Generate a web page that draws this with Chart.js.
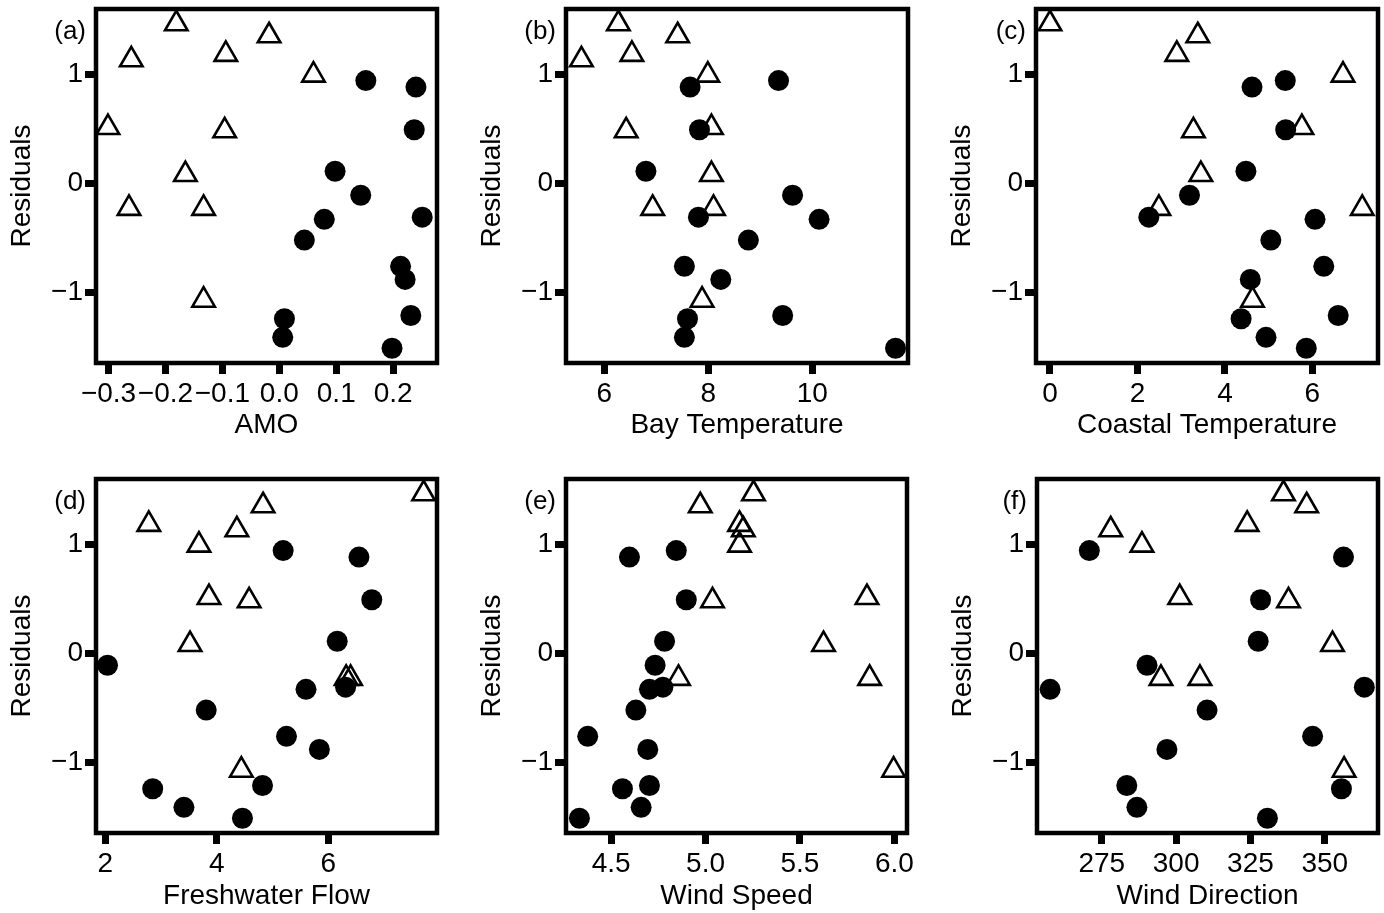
<!DOCTYPE html>
<html>
<head>
<meta charset="utf-8">
<title>Residuals vs covariates</title>
<script src="https://cdn.jsdelivr.net/npm/chart.js@4.4.1/dist/chart.umd.min.js"></script>
<style>
  body { margin: 0; background: #fff; }
  #wrap { position: relative; width: 1384px; height: 913px; background: #fff; }
  #wrap canvas { position: absolute; }
</style>
</head>
<body>
<div id="wrap">
  <canvas id="amo" width="460" height="456" style="left:0;top:0"></canvas>
  <canvas id="bay" width="450" height="456" style="left:470px;top:0"></canvas>
  <canvas id="coast" width="444" height="456" style="left:940px;top:0"></canvas>
  <canvas id="flow" width="460" height="457" style="left:0;top:456px"></canvas>
  <canvas id="speed" width="450" height="457" style="left:470px;top:456px"></canvas>
  <canvas id="dir" width="443" height="457" style="left:941px;top:456px"></canvas>
</div>
<script>
// residuals, same observations in every panel
const circleResiduals = [0.94, 0.88, 0.49, 0.11, -0.11, -0.31, -0.33, -0.52, -0.76, -0.88, -1.21, -1.24, -1.41, -1.51];
const triangleResiduals = [1.46, 1.35, 1.18, 1.13, 0.99, 0.51, 0.48, 0.08, -0.23, -0.23, -1.07];

// covariate values (same order as residuals above)
const amoCircle = [0.152, 0.240, 0.237, 0.098, 0.143, 0.251, 0.079, 0.044, 0.213, 0.221, 0.231, 0.009, 0.006, 0.198];
const amoTriangle = [-0.181, -0.018, -0.094, -0.260, 0.060, -0.301, -0.096, -0.165, -0.264, -0.133, -0.133];

const bayCircle = [9.35, 7.65, 7.83, 6.80, 9.62, 7.81, 10.13, 8.77, 7.54, 8.24, 9.43, 7.60, 7.54, 11.60];
const bayTriangle = [6.27, 7.41, 6.53, 5.56, 7.99, 8.06, 6.42, 8.06, 6.93, 8.10, 7.88];

const coastCircle = [5.38, 4.62, 5.39, 4.48, 3.19, 2.26, 6.06, 5.05, 6.26, 4.58, 6.59, 4.37, 4.94, 5.86];
const coastTriangle = [0.00, 3.38, 2.90, null, 6.70, 5.76, 3.28, 3.45, 2.49, 7.14, 4.63];

const flowCircle = [5.19, 6.55, 6.78, 6.16, 2.04, 6.31, 5.60, 3.81, 5.25, 5.84, 4.82, 2.85, 3.41, 4.46];
const flowTriangle = [7.71, 4.83, 2.78, 4.36, 3.68, 3.86, 4.58, 3.52, 6.32, 6.40, 4.44];

const speedCircle = [4.845, 4.597, 4.898, 4.783, 4.733, 4.774, 4.703, 4.631, 4.376, 4.694, 4.703, 4.560, 4.659, 4.332];
const speedTriangle = [5.254, 4.972, 5.18, 5.20, 5.18, 5.855, 5.037, 5.625, 4.857, 5.869, 5.996];

const dirCircle = [270.8, 356.3, 328.4, 327.6, 290.2, 363.3, 257.6, 310.4, 345.9, 296.9, 283.4, 355.6, 286.8, 330.7];
const dirTriangle = [336.1, 343.9, 323.9, 278.0, 288.5, 301.2, 337.8, 352.6, 294.9, 308.0, 356.5];

// tick values and labels
const residualTicks = [-1, 0, 1];
const residualTickLabels = ['\u22121', '0', '1'];
const amoTicks = [-0.3, -0.2, -0.1, 0, 0.1, 0.2];
const amoTickLabels = ['\u22120.3', '\u22120.2', '\u22120.1', '0.0', '0.1', '0.2'];
const bayTicks = [6, 8, 10];
const bayTickLabels = ['6', '8', '10'];
const coastTicks = [0, 2, 4, 6];
const coastTickLabels = ['0', '2', '4', '6'];
const flowTicks = [2, 4, 6];
const flowTickLabels = ['2', '4', '6'];
const speedTicks = [4.5, 5.0, 5.5, 6.0];
const speedTickLabels = ['4.5', '5.0', '5.5', '6.0'];
const dirTicks = [275, 300, 325, 350];
const dirTickLabels = ['275', '300', '325', '350'];

const FONT = '"Liberation Sans", Arial, Helvetica, sans-serif';
Chart.defaults.font.family = FONT;
Chart.defaults.font.size = 28;
Chart.defaults.color = '#000';

// box around the plot area
const framePlugin = {
  id: 'frame',
  beforeDatasetsDraw(chart) {
    const { ctx, chartArea: a } = chart;
    ctx.save();
    ctx.lineWidth = 4.5;
    ctx.strokeStyle = '#000';
    ctx.strokeRect(a.left, a.top, a.right - a.left, a.bottom - a.top);
    ctx.restore();
  }
};

// (a), (b) ... left of the box
const panelLabelPlugin = {
  id: 'panelLabel',
  afterDraw(chart, args, opts) {
    if (!opts.text) return;
    const { ctx, chartArea: a } = chart;
    ctx.save();
    ctx.font = '26px ' + FONT;
    ctx.fillStyle = '#000';
    ctx.textAlign = 'right';
    ctx.textBaseline = 'alphabetic';
    ctx.fillText(opts.text, a.left - 10, a.top + 30);
    ctx.restore();
  }
};

Chart.register(framePlugin, panelLabelPlugin);

function points(xs, ys) {
  return xs.map((x, i) => ({ x: x, y: ys[i] })).filter(p => p.x !== null);
}

function makePanel(id, label, title, circleX, triangleX, ticks, tickLabels, min, max, row, padRight) {
  const top = row === 0;
  const canvasH = top ? 456 : 457;
  const chartBottom = top ? 363 : 377;
  new Chart(document.getElementById(id), {
    type: 'scatter',
    data: {
      datasets: [
        {
          data: points(circleX, circleResiduals),
          pointStyle: 'circle',
          pointRadius: 10.5,
          pointHoverRadius: 10.5,
          pointBackgroundColor: '#000',
          pointBorderColor: '#000',
          pointBorderWidth: 0,
          clip: false
        },
        {
          data: points(triangleX, triangleResiduals),
          pointStyle: 'triangle',
          pointRadius: 13,
          pointHoverRadius: 13,
          pointBackgroundColor: 'rgba(0,0,0,0)',
          pointBorderColor: '#000',
          pointBorderWidth: 2.6,
          clip: false
        }
      ]
    },
    options: {
      responsive: false,
      animation: false,
      events: [],
      layout: {
        autoPadding: false,
        padding: { top: top ? 9 : 23, right: padRight, bottom: 0, left: 0 }
      },
      plugins: {
        legend: { display: false },
        tooltip: { enabled: false },
        panelLabel: { text: label }
      },
      scales: {
        x: {
          type: 'linear',
          min: min,
          max: max,
          afterBuildTicks: s => { s.ticks = ticks.map(v => ({ value: v })); },
          afterFit: s => { s.height = canvasH - chartBottom; s.paddingLeft = 0; s.paddingRight = 0; },
          ticks: {
            autoSkip: false,
            maxRotation: 0,
            minRotation: 0,
            padding: 3,
            callback: (v, i) => tickLabels[i]
          },
          grid: { drawOnChartArea: false, tickLength: 11, tickWidth: 7, tickColor: '#000' },
          border: { display: false },
          title: { display: true, text: title, padding: { top: 0, bottom: top ? 14 : 0 } }
        },
        y: {
          type: 'linear',
          min: -1.645,
          max: 1.595,
          afterBuildTicks: s => { s.ticks = residualTicks.map(v => ({ value: v })); },
          afterFit: s => { s.width = 96; s.paddingTop = 0; s.paddingBottom = 0; },
          ticks: {
            padding: 2,
            callback: (v, i) => residualTickLabels[i]
          },
          grid: { drawOnChartArea: false, tickLength: 11, tickWidth: 7, tickColor: '#000' },
          border: { display: false },
          title: { display: true, text: 'Residuals', padding: { top: 5, bottom: 0 } }
        }
      }
    }
  });
}

makePanel('amo', '(a)', 'AMO', amoCircle, amoTriangle, amoTicks, amoTickLabels, -0.322, 0.277, 0, 23);
makePanel('bay', '(b)', 'Bay Temperature', bayCircle, bayTriangle, bayTicks, bayTickLabels, 5.263, 11.84, 0, 12);
makePanel('coast', '(c)', 'Coastal Temperature', coastCircle, coastTriangle, coastTicks, coastTickLabels, -0.319, 7.50, 0, 6);
makePanel('flow', '(d)', 'Freshwater Flow', flowCircle, flowTriangle, flowTicks, flowTickLabels, 1.833, 7.95, 1, 23);
makePanel('speed', '(e)', 'Wind Speed', speedCircle, speedTriangle, speedTicks, speedTickLabels, 4.261, 6.067, 1, 13);
makePanel('dir', '(f)', 'Wind Direction', dirCircle, dirTriangle, dirTicks, dirTickLabels, 253.2, 367.9, 1, 6);
</script>
</body>
</html>
